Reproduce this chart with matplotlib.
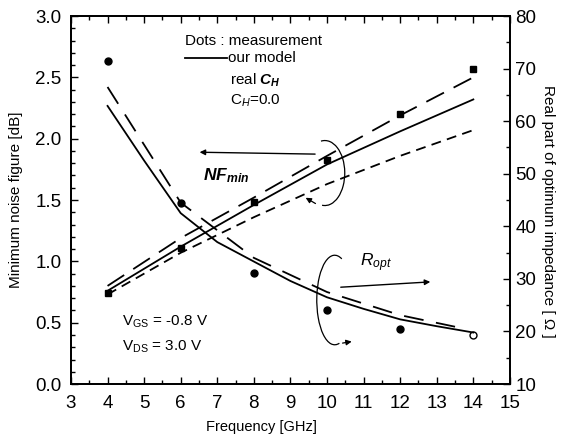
import matplotlib
matplotlib.use('Agg')
import matplotlib.pyplot as plt
from matplotlib.patches import Arc
import numpy as np

plt.rcParams['font.family'] = ['Liberation Sans', 'DejaVu Sans']
plt.rcParams['mathtext.default'] = 'regular'
plt.rcParams['mathtext.fontset'] = 'custom'
plt.rcParams['mathtext.it'] = 'Liberation Sans:italic'
plt.rcParams['mathtext.bf'] = 'Liberation Sans:bold:italic'

# noise figure (left axis, dB)
freq = [4, 6, 8, 10, 12, 14]
nf_meas = [0.74, 1.11, 1.48, 1.83, 2.20, 2.57]
nf_model = [0.76, 1.12, 1.46, 1.79, 2.06, 2.32]
nf_real_ch = [0.80, 1.19, 1.52, 1.86, 2.19, 2.50]
nf_ch0 = [0.73, 1.07, 1.36, 1.63, 1.86, 2.07]

# optimum resistance (right axis, ohm)
r_meas = [71.5, 44.5, 31.2, 24.1, 20.4]
r_meas_open = [19.3]
r_freq_model = [4, 5, 6, 7, 8, 9, 10, 11, 12, 13, 14]
r_model = [62.9, 52.5, 42.5, 37.0, 33.3, 29.6, 26.5, 24.3, 22.3, 21.0, 19.8]
r_freq_real = [4, 6, 8, 10, 12, 13.5]
r_real_ch = [66.5, 44.5, 34.0, 27.5, 23.1, 20.9]

fig = plt.figure(figsize=(5.71, 4.45), dpi=100)
ax = fig.add_axes([0.1243, 0.137, 0.7687, 0.827])
ax2 = ax.twinx()

lw = 1.3
ax.plot(freq, nf_meas, 's', color='black', ms=4.5)
ax.plot(freq, nf_model, '-', color='black', lw=lw)
ax.plot(freq, nf_real_ch, '--', color='black', lw=lw, dashes=(11, 6))
ax.plot(freq, nf_ch0, '--', color='black', lw=lw, dashes=(5.5, 3.5))

ax2.plot(freq[:5], r_meas, 'o', color='black', ms=5)
ax2.plot(freq[5:], r_meas_open, 'o', mfc='white', mec='black', ms=5, mew=1)
ax2.plot(r_freq_model, r_model, '-', color='black', lw=lw)
ax2.plot(r_freq_real, r_real_ch, '--', color='black', lw=lw, dashes=(11, 7))

ax.set_xlim(3, 15)
ax.set_ylim(0, 3.0)
ax2.set_ylim(10, 80)
ax.set_xticks(range(3, 16))
ax.set_xticks(np.arange(3, 15.01, 0.5), minor=True)
ax.set_yticks(np.arange(0, 3.01, 0.5))
ax.set_yticks(np.arange(0, 3.01, 0.1), minor=True)
ax.set_yticklabels(['%.1f' % v for v in np.arange(0, 3.01, 0.5)])
ax2.set_yticks(range(10, 81, 10))
ax2.set_yticks(range(10, 81, 5), minor=True)

ax.tick_params(which='both', direction='in', top=True, labelsize=13.5)
ax.tick_params(axis='x', pad=8)
ax.tick_params(axis='y', pad=7)
ax.tick_params(which='major', length=5, width=1)
ax.tick_params(which='minor', length=3, width=1)
ax2.tick_params(which='both', direction='in', labelsize=13.5, pad=4)
ax2.tick_params(which='major', length=5, width=1)
ax2.tick_params(which='minor', length=3, width=1)
for a in (ax, ax2):
    for s in a.spines.values():
        s.set_linewidth(1.3)

ax.set_xlabel('Frequency [GHz]', fontsize=10.5)
ax.xaxis.set_label_coords(0.435, -0.098)
ax.set_ylabel('Minimum noise figure [dB]', fontsize=11, labelpad=9)
ax2.set_ylabel('Real part of optimum impedance [ \u03a9 ]', fontsize=11,
               rotation=270, va='center', ha='center')
ax2.yaxis.set_label_coords(1.087, 0.47)

# legend-like notes
ax.text(6.11, 2.80, 'Dots : measurement', fontsize=11, va='center')
ax.plot([6.11, 7.26], [2.66, 2.66], '-', color='black', lw=lw)
ax.text(7.29, 2.66, 'our model', fontsize=11, va='center')
ax.text(7.34, 2.48, r'real $\mathbf{C_H}$', fontsize=11, va='center')
ax.text(7.34, 2.31, r'C$_{\mathit{H}}$=0.0', fontsize=11, va='center')

ax.text(6.6, 1.70, r'$NF_{min}$', fontsize=12.5, va='center',
        fontweight='bold', style='italic')
ax.text(10.9, 0.99, r'$R_{opt}$', fontsize=12.5, va='center', style='italic')
ax.text(4.39, 0.51, r'V$_{GS}$ = -0.8 V', fontsize=11, va='center')
ax.text(4.39, 0.30, r'V$_{DS}$ = 3.0 V', fontsize=11, va='center')

# straight arrows
ax.annotate('', xy=(6.44, 1.89), xytext=(9.75, 1.874),
            arrowprops=dict(arrowstyle='-|>', color='black', lw=1,
                            mutation_scale=8))
ax.annotate('', xy=(12.9, 0.834), xytext=(10.3, 0.788),
            arrowprops=dict(arrowstyle='-|>', color='black', lw=1,
                            mutation_scale=8))

# curved arrows around the curve groups
ax.add_patch(Arc((9.94, 1.72), 1.09, 0.53, theta1=-106, theta2=112,
                 color='black', lw=0.9))
ax.annotate('', xy=(9.35, 1.53), xytext=(9.75, 1.46),
            arrowprops=dict(arrowstyle='-|>', color='black', lw=0.9,
                            mutation_scale=8))
ax.add_patch(Arc((10.21, 0.685), 0.98, 0.73, theta1=60, theta2=290,
                 color='black', lw=0.9))
ax.annotate('', xy=(10.75, 0.35), xytext=(10.35, 0.33),
            arrowprops=dict(arrowstyle='-|>', color='black', lw=0.9,
                            mutation_scale=8))

fig.savefig('out.png', dpi=100)
